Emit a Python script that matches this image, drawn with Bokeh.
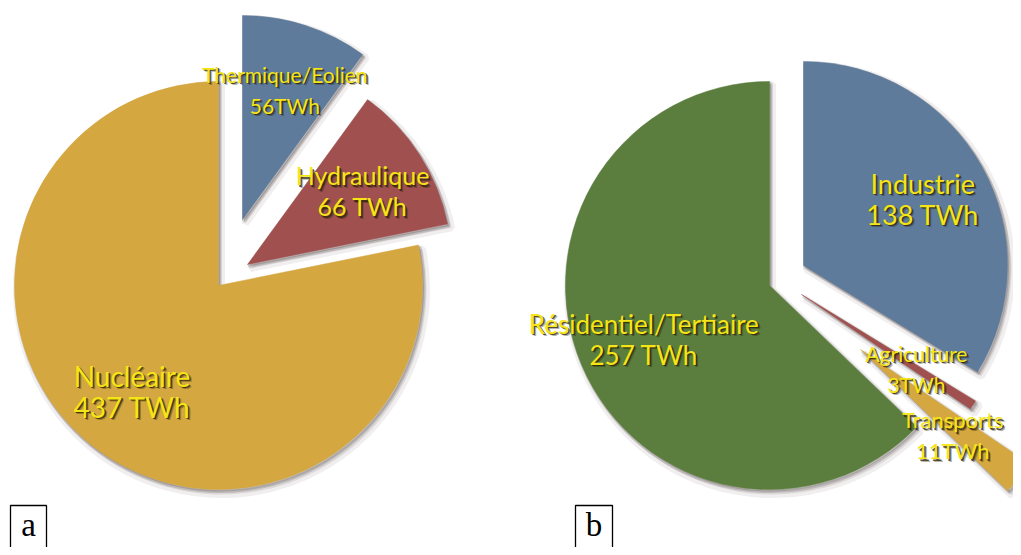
import numpy as np
from bokeh.plotting import figure
from bokeh.models import Range1d
from bokeh.embed import file_html
from bokeh.resources import INLINE
from bokeh.core.properties import value

# ---------------- data ----------------
prod_names = ["Thermique/Eolien", "Hydraulique", "Nucléaire"]
prod_values = [56, 66, 437]
prod_value_text = ["56TWh", "66 TWh", "437 TWh"]

cons_names = ["Industrie", "Agriculture", "Transports", "Résidentiel/Tertiaire"]
cons_values = [138, 3, 11, 257]
cons_value_text = ["138 TWh", "3TWh", "11TWh", "257 TWh"]

panel_letters = ["a", "b"]

# ---------------- layout / style ----------------
W, H = 1013, 547
R = 204
CENTER_A = (218, 270)
CENTER_B = (769, 270)
prod_colors = ["#5E7B9B", "#A0504F", "#D5A740"]
cons_colors = ["#5E7B9B", "#A0504F", "#D5A740", "#5B7E3E"]
# explode offsets (pixels, x right / y up)
prod_explode = [(24, 66), (29, 21), (0, 0)]
cons_explode = [(34, 20), (32, -9), (91, -64), (0, 0)]
prod_fs = ["21px", "25px", "28px"]
cons_fs = ["27px", "21px", "22px", "26px"]
# small label nudges (pixels) so every text stays inside the frame
prod_nudge = [(0, 0), (0, 0), (0, 0)]
cons_nudge = [(0, 0), (0, 0), (-14, 0), (0, 0)]
TEXT_COLOR = "#F5E517"
FONT = "Lato"

p = figure(width=W, height=H, x_range=Range1d(0, W), y_range=Range1d(555 - H, 555),
           output_backend="svg", toolbar_location=None, min_border=0,
           background_fill_color="white", border_fill_color="white")
p.axis.visible = False
p.grid.visible = False
p.outline_line_color = None


def draw_pie(center, values, colors, explode, names, vtexts, sizes, nudge):
    vals = np.array(values, dtype=float)
    ang = vals / vals.sum() * 2 * np.pi
    before = np.concatenate([[0.0], np.cumsum(ang)[:-1]])
    ends = np.pi / 2 - before
    starts = ends - ang
    xs = np.array([center[0] + e[0] for e in explode], dtype=float)
    ys = np.array([center[1] + e[1] for e in explode], dtype=float)
    # soft shadow
    p.wedge(xs + 3, ys - 4, radius=R + 1, start_angle=starts, end_angle=ends,
            fill_color="#3a2c2c", fill_alpha=0.10, line_color="#3a2c2c",
            line_alpha=0.08, line_width=7)
    p.wedge(xs + 1.5, ys - 2, radius=R, start_angle=starts, end_angle=ends,
            fill_color="#3a2c2c", fill_alpha=0.22, line_color="#3a2c2c",
            line_alpha=0.18, line_width=3)
    p.wedge(xs, ys, radius=R, start_angle=starts, end_angle=ends,
            fill_color=colors, line_color=colors, line_width=0.5)
    mid = (starts + ends) / 2
    lx = xs + 0.67 * R * np.cos(mid) + np.array([n[0] for n in nudge])
    ly = ys + 0.67 * R * np.sin(mid) + np.array([n[1] for n in nudge])
    for i in range(len(vals)):
        for txt, dy in ((names[i], 15.5), (vtexts[i], -15.5)):
            for off, a in ((2.6, 0.35), (1.4, 0.75)):
                p.text(x=[lx[i]], y=[ly[i] + dy], text=[txt], x_offset=off, y_offset=off,
                       text_align="center", text_baseline="middle",
                       text_font=value(FONT), text_font_size=sizes[i],
                       text_color="#2b2205", text_alpha=a)
            p.text(x=[lx[i]], y=[ly[i] + dy], text=[txt],
                   text_align="center", text_baseline="middle",
                   text_font=value(FONT), text_font_size=sizes[i],
                   text_color=TEXT_COLOR)


draw_pie(CENTER_A, prod_values, prod_colors, prod_explode, prod_names, prod_value_text,
         prod_fs, prod_nudge)
draw_pie(CENTER_B, cons_values, cons_colors, cons_explode, cons_names, cons_value_text,
         cons_fs, cons_nudge)

# panel letters in boxes
box_left = [10, 575]
box_right = [46, 612]
p.quad(left=box_left, right=box_right, top=[50, 50], bottom=[-10, -10],
       fill_color=None, line_color="black", line_width=1.3)
p.text(x=[(l + r) / 2 for l, r in zip(box_left, box_right)], y=[31, 31], text=panel_letters,
       text_align="center", text_baseline="middle", text_font=value("Liberation Serif"),
       text_font_size="33px", text_color="black")

open("out.html", "w").write(file_html(p, INLINE))
